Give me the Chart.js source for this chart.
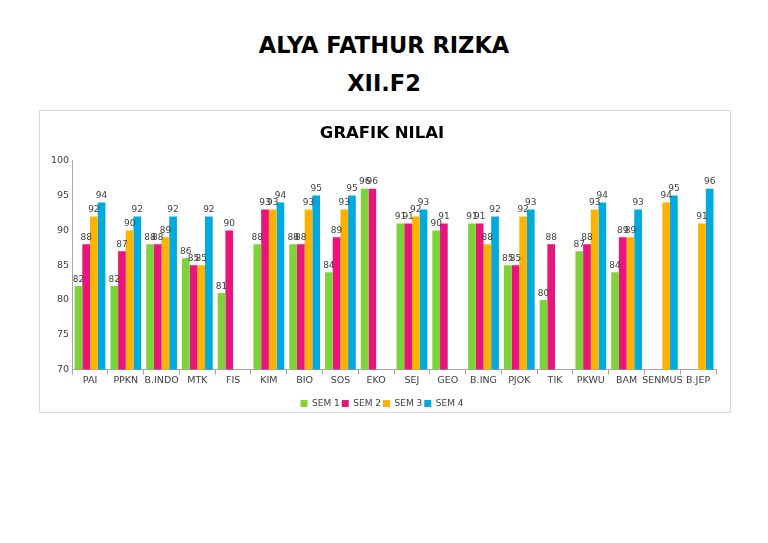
<!DOCTYPE html>
<html>
<head>
<meta charset="utf-8">
<script src="https://cdn.jsdelivr.net/npm/chart.js@4/dist/chart.umd.min.js"></script>
<style>
  body { margin: 0; background: #fff; font-family: "DejaVu Sans", sans-serif; }
  .head { position: absolute; left: 0; width: 768px; text-align: center; font-weight: bold; font-size: 22.5px; color: #000; }
  #box { position: absolute; left: 39px; top: 110px; width: 690px; height: 301px; border: 1px solid #d9d9d9; }
</style>
</head>
<body>
<div class="head" style="top:32px">ALYA FATHUR RIZKA</div>
<div class="head" style="top:70px">XII.F2</div>
<div id="box"><canvas id="chart"></canvas></div>
<script>
const subjects = ["PAI", "PPKN", "B.INDO", "MTK", "FIS", "KIM", "BIO", "SOS", "EKO", "SEJ", "GEO", "B.ING", "PJOK", "TIK", "PKWU", "BAM", "SENMUS", "B.JEP"];
const sem1 = [82, 82, 88, 86, 81, 88, 88, 84, 96, 91, 90, 91, 85, 80, 87, 84, null, null];
const sem2 = [88, 87, 88, 85, 90, 93, 88, 89, 96, 91, 91, 91, 85, 88, 88, 89, null, null];
const sem3 = [92, 90, 89, 85, null, 93, 93, 93, null, 92, null, 88, 92, null, 93, 89, 94, 91];
const sem4 = [94, 92, 92, 92, null, 94, 95, 95, null, 93, null, 92, 93, null, 94, 93, 95, 96];
const yTicks = [70, 75, 80, 85, 90, 95, 100];

// draws the value above every bar
const valueLabels = {
  id: "valueLabels",
  afterDatasetsDraw(chart) {
    const ctx = chart.ctx;
    ctx.save();
    ctx.font = "9px 'DejaVu Sans'";
    ctx.fillStyle = "#404040";
    ctx.textAlign = "center";
    ctx.textBaseline = "bottom";
    chart.data.datasets.forEach(function (ds, i) {
      chart.getDatasetMeta(i).data.forEach(function (bar, j) {
        if (ds.data[j] == null) return;
        ctx.fillText(ds.data[j], bar.x, bar.y - 2);
      });
    });
    ctx.restore();
  }
};

new Chart(document.getElementById("chart"), {
  type: "bar",
  data: {
    labels: subjects,
    datasets: [
      { label: "SEM 1", data: sem1, backgroundColor: "#7fd33a" },
      { label: "SEM 2", data: sem2, backgroundColor: "#e8157a" },
      { label: "SEM 3", data: sem3, backgroundColor: "#ffb300" },
      { label: "SEM 4", data: sem4, backgroundColor: "#00a9de" }
    ]
  },
  options: {
    responsive: true,
    maintainAspectRatio: false,
    animation: false,
    categoryPercentage: 0.86,
    barPercentage: 1.0,
    layout: { padding: { left: 8, right: 14, top: 0, bottom: -6 } },
    plugins: {
      title: {
        display: true,
        text: "GRAFIK NILAI",
        color: "#000",
        font: { family: "DejaVu Sans", size: 16.5, weight: "bold" },
        padding: { top: 13, bottom: 17 }
      },
      legend: {
        position: "bottom",
        labels: {
          color: "#404040",
          font: { family: "DejaVu Sans", size: 9 },
          boxWidth: 7,
          boxHeight: 7,
          padding: 2
        }
      },
      tooltip: { enabled: false }
    },
    scales: {
      x: {
        afterFit: function (axis) { axis.height += 11; },
        grid: { display: true, drawOnChartArea: false, drawTicks: true, tickLength: 5, offset: true, color: "#a6a6a6" },
        border: { color: "#a6a6a6" },
        ticks: { color: "#404040", font: { family: "DejaVu Sans", size: 9.5 }, maxRotation: 0, autoSkip: false, padding: 0 }
      },
      y: {
        min: 70,
        max: 100,
        afterBuildTicks: function (axis) { axis.ticks = yTicks.map(function (v) { return { value: v }; }); },
        grid: { display: false, drawTicks: false },
        border: { color: "#a6a6a6" },
        ticks: { color: "#404040", font: { family: "DejaVu Sans", size: 9.5 }, padding: 3 }
      }
    }
  },
  plugins: [valueLabels]
});
</script>
</body>
</html>
